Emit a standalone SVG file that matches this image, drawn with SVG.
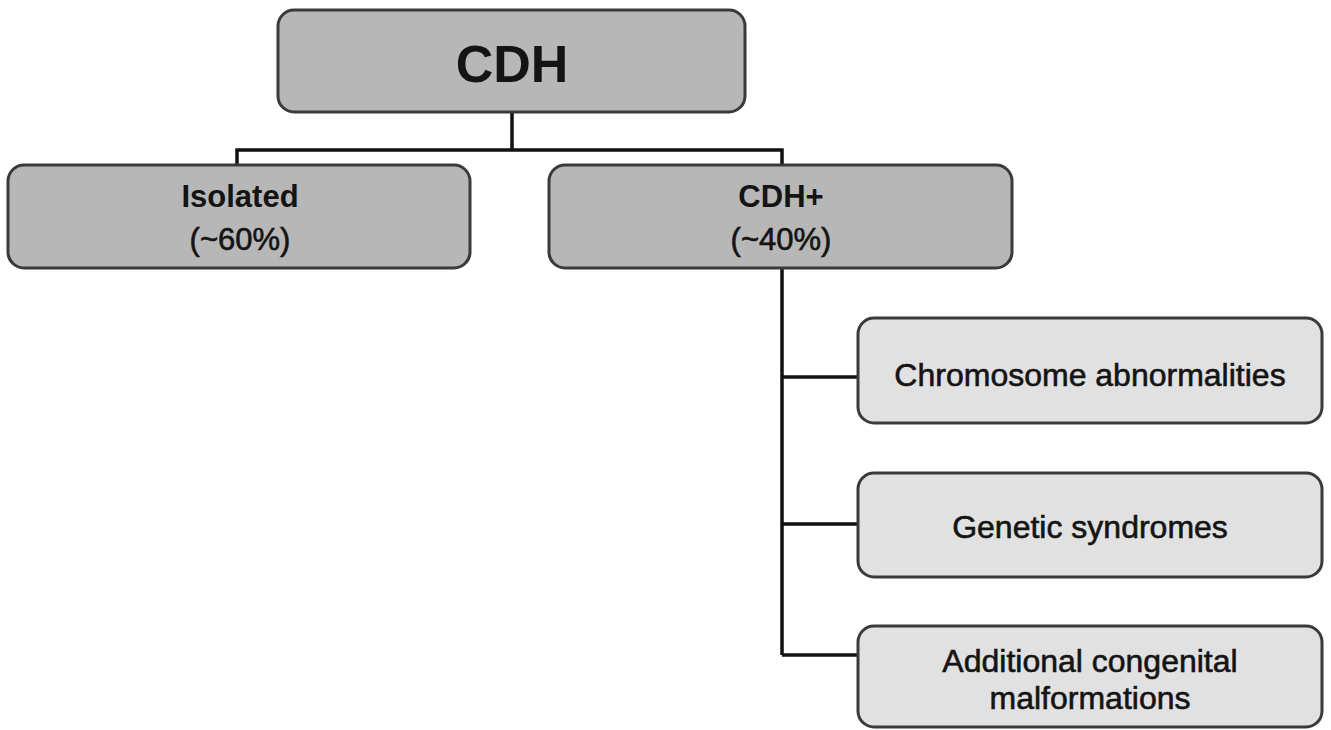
<svg xmlns="http://www.w3.org/2000/svg" width="1331" height="730" viewBox="0 0 1331 730">
<style>
.main{fill:#b7b7b7;stroke:#3a3a3a;stroke-width:3}
.sub{fill:#e1e1e1;stroke:#3a3a3a;stroke-width:3}
.t{font-family:"Liberation Sans",Arial,sans-serif;fill:#141414;text-anchor:middle}
.b{font-weight:bold}
.r{stroke:#141414;stroke-width:0.6}
.conn{fill:none;stroke:#111;stroke-width:3.5}
</style>
<rect width="1331" height="730" fill="#fff"/>
<g id="connectors">
<path class="conn" d="M512 112 V150 M237 165 V150 H782 V165"/>
<path class="conn" d="M782 268 V655 M782 377 H858 M782 524 H858 M782 655 H858"/>
</g>
<g id="cdh">
<rect class="main" x="278" y="10" width="467" height="102" rx="16"/>
<text class="t b" x="512" y="82" font-size="52">CDH</text>
</g>
<g id="isolated">
<rect class="main" x="8" y="165" width="462" height="103" rx="16"/>
<text class="t b" x="240" y="207" font-size="31">Isolated</text>
<text class="t r" x="240" y="250" font-size="31">(~60%)</text>
</g>
<g id="cdhplus">
<rect class="main" x="549" y="165" width="463" height="103" rx="16"/>
<text class="t b" x="781" y="207" font-size="31">CDH+</text>
<text class="t r" x="781" y="250" font-size="31">(~40%)</text>
</g>
<g id="chromosome">
<rect class="sub" x="858" y="318" width="464" height="105" rx="16"/>
<text class="t r" x="1090" y="386" font-size="32">Chromosome abnormalities</text>
</g>
<g id="genetic">
<rect class="sub" x="858" y="473" width="464" height="104" rx="16"/>
<text class="t r" x="1090" y="538" font-size="32">Genetic syndromes</text>
</g>
<g id="additional">
<rect class="sub" x="858" y="626" width="464" height="101" rx="16"/>
<text class="t r" x="1090" y="672" font-size="32">Additional congenital</text>
<text class="t r" x="1090" y="709" font-size="32">malformations</text>
</g>
</svg>
